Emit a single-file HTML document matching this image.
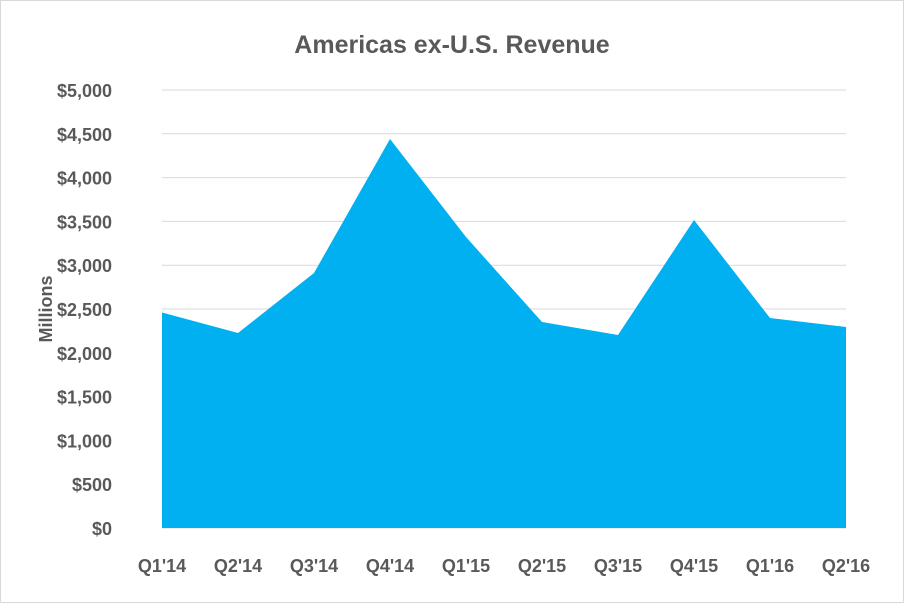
<!DOCTYPE html>
<html><head><meta charset="utf-8"><style>
html,body{margin:0;padding:0;background:#fff;}
svg{display:block;font-family:"Liberation Sans",sans-serif;}
</style></head><body>
<svg id="chart" width="904" height="603">
<rect x="0.5" y="0.5" width="903" height="602" fill="#fff" stroke="#d9d9d9"/>
<text x="452" y="53" text-anchor="middle" font-size="25" font-weight="bold" fill="#595959">Americas ex-U.S. Revenue</text>
<text transform="translate(52,309) rotate(-90)" text-anchor="middle" font-size="18" font-weight="bold" fill="#595959">Millions</text>
<g id="grid"></g><g id="area"></g><g id="yt"></g><g id="xt"></g>
</svg>
<script>
const categories=["Q1'14","Q2'14","Q3'14","Q4'14","Q1'15","Q2'15","Q3'15","Q4'15","Q1'16","Q2'16"];
const revenue=[2460,2226,2911,4441,3322,2352,2203,3516,2397,2295];
const yTicks=[0,500,1000,1500,2000,2500,3000,3500,4000,4500,5000];
const yTickLabels=["$0","$500","$1,000","$1,500","$2,000","$2,500","$3,000","$3,500","$4,000","$4,500","$5,000"];
const NS="http://www.w3.org/2000/svg";
const x0=162,x1=846,y0=528,y1=90;
const xs=i=>x0+(x1-x0)*i/(categories.length-1);
const ys=v=>y0-(y0-y1)*v/5000;
function mk(t,a,p){const e=document.createElementNS(NS,t);for(const k in a)e.setAttribute(k,a[k]);p.appendChild(e);return e;}
const grid=document.getElementById('grid'),yt=document.getElementById('yt'),xt=document.getElementById('xt'),area=document.getElementById('area');
yTicks.forEach((v,i)=>{
 const l=mk('line',{x1:x0,x2:x1,y1:ys(v),y2:ys(v),stroke:'#d9d9d9','stroke-width':1},grid);
 
 
 const t=mk('text',{x:112,y:ys(v)+7,'text-anchor':'end','font-size':18,'font-weight':'bold',fill:'#595959'},yt);
 t.textContent=yTickLabels[i];
 
 
});
let d='M'+xs(0)+','+ys(0);
revenue.forEach((v,i)=>{d+=' L'+xs(i)+','+ys(v);});
d+=' L'+xs(revenue.length-1)+','+ys(0)+' Z';
const p=mk('path',{d:d,fill:'#00b0f0'},area);


categories.forEach((c,i)=>{
 const t=mk('text',{x:xs(i),y:572,'text-anchor':'middle','font-size':18,'font-weight':'bold',fill:'#595959'},xt);
 t.textContent=c;
 
 
});
</script>
</body></html>
